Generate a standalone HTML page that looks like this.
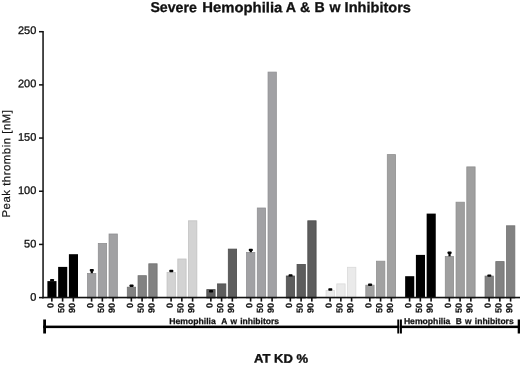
<!DOCTYPE html>
<html><head><meta charset="utf-8"><title>Severe Hemophilia A &amp; B w Inhibitors</title>
<style>
html,body{margin:0;padding:0;background:#fff;}
body{width:520px;height:367px;overflow:hidden;font-family:"Liberation Sans",sans-serif;}
svg{display:block;}
text{font-family:"Liberation Sans",sans-serif;fill:#111;}
</style></head><body>
<svg width="520" height="367" viewBox="0 0 520 367" style="will-change:transform">
<defs><filter id="soft" x="0" y="0" width="520" height="367" filterUnits="userSpaceOnUse" color-interpolation-filters="sRGB"><feGaussianBlur stdDeviation="0.4"/></filter></defs>
<rect width="520" height="367" fill="#fff"/>
<g opacity="0.999" filter="url(#soft)">
<rect x="-5" y="-5" width="530" height="377" fill="#fff"/>

<text x="150.40" y="11.95" font-size="14.2" transform="matrix(1 0.001 0 1 0 0)" font-weight="bold" textLength="46.4" lengthAdjust="spacingAndGlyphs" stroke="#111" stroke-width="0.3">Severe</text>
<text x="202.30" y="11.90" font-size="14.2" transform="matrix(1 0.001 0 1 0 0)" font-weight="bold" textLength="80.0" lengthAdjust="spacingAndGlyphs" stroke="#111" stroke-width="0.3">Hemophilia</text>
<text x="285.70" y="11.81" font-size="14.2" transform="matrix(1 0.001 0 1 0 0)" font-weight="bold" stroke="#111" stroke-width="0.3">A</text>
<text x="300.10" y="11.80" font-size="14.2" transform="matrix(1 0.001 0 1 0 0)" font-weight="bold" stroke="#111" stroke-width="0.3">&amp;</text>
<text x="314.60" y="11.79" font-size="14.2" transform="matrix(1 0.001 0 1 0 0)" font-weight="bold" stroke="#111" stroke-width="0.3">B</text>
<text x="329.60" y="11.77" font-size="14.2" transform="matrix(1 0.001 0 1 0 0)" font-weight="bold" stroke="#111" stroke-width="0.3">w</text>
<text x="344.60" y="11.76" font-size="14.2" transform="matrix(1 0.001 0 1 0 0)" font-weight="bold" textLength="66.4" lengthAdjust="spacingAndGlyphs" stroke="#111" stroke-width="0.3">Inhibitors</text>
<text font-size="11.3" transform="translate(10.10,217.50) rotate(-90) matrix(1 0.001 0 1 0 0)" textLength="107.4" lengthAdjust="spacing" stroke="#111" stroke-width="0.2">Peak thrombin [nM]</text>
<text x="36.30" y="300.81" font-size="11" transform="matrix(1 0.001 0 1 0 0)" text-anchor="end" stroke="#111" stroke-width="0.3">0</text>
<rect x="39.0" y="296.85" width="4.2" height="1.5" fill="#111"/>
<text x="36.30" y="247.44" font-size="11" transform="matrix(1 0.001 0 1 0 0)" text-anchor="end" stroke="#111" stroke-width="0.3">50</text>
<rect x="39.0" y="243.67" width="4.2" height="1.5" fill="#111"/>
<text x="36.30" y="194.07" font-size="11" transform="matrix(1 0.001 0 1 0 0)" text-anchor="end" stroke="#111" stroke-width="0.3">100</text>
<rect x="39.0" y="190.49" width="4.2" height="1.5" fill="#111"/>
<text x="36.30" y="140.70" font-size="11" transform="matrix(1 0.001 0 1 0 0)" text-anchor="end" stroke="#111" stroke-width="0.3">150</text>
<rect x="39.0" y="137.31" width="4.2" height="1.5" fill="#111"/>
<text x="36.30" y="87.33" font-size="11" transform="matrix(1 0.001 0 1 0 0)" text-anchor="end" stroke="#111" stroke-width="0.3">200</text>
<rect x="39.0" y="84.13" width="4.2" height="1.5" fill="#111"/>
<text x="36.30" y="33.96" font-size="11" transform="matrix(1 0.001 0 1 0 0)" text-anchor="end" stroke="#111" stroke-width="0.3">250</text>
<rect x="39.0" y="30.95" width="4.2" height="1.5" fill="#111"/>
<rect x="47.40" y="281.10" width="9.1" height="16.50" fill="#000000"/>
<rect x="50.05" y="278.90" width="4.0" height="2.4" rx="0.7" fill="#050505"/>
<rect x="51.05" y="297" width="1.6" height="4.6" fill="#111"/>
<text font-size="9" transform="translate(53.45,303.00) rotate(-90) matrix(1 0.001 0 1 0 0)" font-weight="bold" text-anchor="end" stroke="#111" stroke-width="0.2">0</text>
<rect x="58.15" y="266.90" width="9.1" height="30.70" fill="#000000"/>
<rect x="61.80" y="297" width="1.6" height="4.6" fill="#111"/>
<text font-size="9" transform="translate(64.20,303.00) rotate(-90) matrix(1 0.001 0 1 0 0)" font-weight="bold" text-anchor="end" stroke="#111" stroke-width="0.2">50</text>
<rect x="68.90" y="254.20" width="9.1" height="43.40" fill="#000000"/>
<rect x="72.55" y="297" width="1.6" height="4.6" fill="#111"/>
<text font-size="9" transform="translate(74.95,303.00) rotate(-90) matrix(1 0.001 0 1 0 0)" font-weight="bold" text-anchor="end" stroke="#111" stroke-width="0.2">90</text>
<rect x="87.55" y="273.40" width="8.30" height="24.60" fill="#a1a1a3" stroke="#909092" stroke-width="0.8"/>
<rect x="89.80" y="269.00" width="4.0" height="2.4" rx="0.7" fill="#050505"/>
<rect x="90.70" y="270.00" width="2.2" height="3.20" fill="#050505"/>
<rect x="90.80" y="297" width="1.6" height="4.6" fill="#111"/>
<text font-size="9" transform="translate(93.20,303.00) rotate(-90) matrix(1 0.001 0 1 0 0)" font-weight="bold" text-anchor="end" stroke="#111" stroke-width="0.2">0</text>
<rect x="98.30" y="243.40" width="8.30" height="54.60" fill="#a1a1a3" stroke="#909092" stroke-width="0.8"/>
<rect x="101.55" y="297" width="1.6" height="4.6" fill="#111"/>
<text font-size="9" transform="translate(103.95,303.00) rotate(-90) matrix(1 0.001 0 1 0 0)" font-weight="bold" text-anchor="end" stroke="#111" stroke-width="0.2">50</text>
<rect x="109.05" y="234.00" width="8.30" height="64.00" fill="#a1a1a3" stroke="#909092" stroke-width="0.8"/>
<rect x="112.30" y="297" width="1.6" height="4.6" fill="#111"/>
<text font-size="9" transform="translate(114.70,303.00) rotate(-90) matrix(1 0.001 0 1 0 0)" font-weight="bold" text-anchor="end" stroke="#111" stroke-width="0.2">90</text>
<rect x="127.30" y="287.20" width="8.30" height="10.80" fill="#828282" stroke="#717171" stroke-width="0.8"/>
<rect x="129.55" y="284.50" width="4.0" height="2.4" rx="0.7" fill="#050505"/>
<rect x="130.55" y="297" width="1.6" height="4.6" fill="#111"/>
<text font-size="9" transform="translate(132.95,303.00) rotate(-90) matrix(1 0.001 0 1 0 0)" font-weight="bold" text-anchor="end" stroke="#111" stroke-width="0.2">0</text>
<rect x="138.05" y="275.70" width="8.30" height="22.30" fill="#828282" stroke="#717171" stroke-width="0.8"/>
<rect x="141.30" y="297" width="1.6" height="4.6" fill="#111"/>
<text font-size="9" transform="translate(143.70,303.00) rotate(-90) matrix(1 0.001 0 1 0 0)" font-weight="bold" text-anchor="end" stroke="#111" stroke-width="0.2">50</text>
<rect x="148.80" y="263.80" width="8.30" height="34.20" fill="#828282" stroke="#717171" stroke-width="0.8"/>
<rect x="152.05" y="297" width="1.6" height="4.6" fill="#111"/>
<text font-size="9" transform="translate(154.45,303.00) rotate(-90) matrix(1 0.001 0 1 0 0)" font-weight="bold" text-anchor="end" stroke="#111" stroke-width="0.2">90</text>
<rect x="167.05" y="272.50" width="8.30" height="25.50" fill="#d3d3d3" stroke="#c2c2c2" stroke-width="0.8"/>
<rect x="169.30" y="269.80" width="4.0" height="2.4" rx="0.7" fill="#050505"/>
<rect x="170.30" y="297" width="1.6" height="4.6" fill="#111"/>
<text font-size="9" transform="translate(172.70,303.00) rotate(-90) matrix(1 0.001 0 1 0 0)" font-weight="bold" text-anchor="end" stroke="#111" stroke-width="0.2">0</text>
<rect x="177.80" y="259.00" width="8.30" height="39.00" fill="#d3d3d3" stroke="#c2c2c2" stroke-width="0.8"/>
<rect x="181.05" y="297" width="1.6" height="4.6" fill="#111"/>
<text font-size="9" transform="translate(183.45,303.00) rotate(-90) matrix(1 0.001 0 1 0 0)" font-weight="bold" text-anchor="end" stroke="#111" stroke-width="0.2">50</text>
<rect x="188.55" y="220.80" width="8.30" height="77.20" fill="#d3d3d3" stroke="#c2c2c2" stroke-width="0.8"/>
<rect x="191.80" y="297" width="1.6" height="4.6" fill="#111"/>
<text font-size="9" transform="translate(194.20,303.00) rotate(-90) matrix(1 0.001 0 1 0 0)" font-weight="bold" text-anchor="end" stroke="#111" stroke-width="0.2">90</text>
<rect x="206.80" y="289.60" width="8.30" height="8.40" fill="#5e5e5e" stroke="#4d4d4d" stroke-width="0.8"/>
<rect x="209.05" y="290.00" width="4.0" height="2.4" rx="0.7" fill="#050505"/>
<rect x="210.05" y="297" width="1.6" height="4.6" fill="#111"/>
<text font-size="9" transform="translate(212.45,303.00) rotate(-90) matrix(1 0.001 0 1 0 0)" font-weight="bold" text-anchor="end" stroke="#111" stroke-width="0.2">0</text>
<rect x="217.55" y="283.90" width="8.30" height="14.10" fill="#5e5e5e" stroke="#4d4d4d" stroke-width="0.8"/>
<rect x="220.80" y="297" width="1.6" height="4.6" fill="#111"/>
<text font-size="9" transform="translate(223.20,303.00) rotate(-90) matrix(1 0.001 0 1 0 0)" font-weight="bold" text-anchor="end" stroke="#111" stroke-width="0.2">50</text>
<rect x="228.30" y="249.10" width="8.30" height="48.90" fill="#5e5e5e" stroke="#4d4d4d" stroke-width="0.8"/>
<rect x="231.55" y="297" width="1.6" height="4.6" fill="#111"/>
<text font-size="9" transform="translate(233.95,303.00) rotate(-90) matrix(1 0.001 0 1 0 0)" font-weight="bold" text-anchor="end" stroke="#111" stroke-width="0.2">90</text>
<rect x="246.55" y="252.40" width="8.30" height="45.60" fill="#a1a1a4" stroke="#909093" stroke-width="0.8"/>
<rect x="248.80" y="248.70" width="4.0" height="2.4" rx="0.7" fill="#050505"/>
<rect x="249.70" y="249.70" width="2.2" height="2.50" fill="#050505"/>
<rect x="249.80" y="297" width="1.6" height="4.6" fill="#111"/>
<text font-size="9" transform="translate(252.20,303.00) rotate(-90) matrix(1 0.001 0 1 0 0)" font-weight="bold" text-anchor="end" stroke="#111" stroke-width="0.2">0</text>
<rect x="257.30" y="208.00" width="8.30" height="90.00" fill="#a1a1a4" stroke="#909093" stroke-width="0.8"/>
<rect x="260.55" y="297" width="1.6" height="4.6" fill="#111"/>
<text font-size="9" transform="translate(262.95,303.00) rotate(-90) matrix(1 0.001 0 1 0 0)" font-weight="bold" text-anchor="end" stroke="#111" stroke-width="0.2">50</text>
<rect x="268.05" y="72.10" width="8.30" height="225.90" fill="#a1a1a4" stroke="#909093" stroke-width="0.8"/>
<rect x="271.30" y="297" width="1.6" height="4.6" fill="#111"/>
<text font-size="9" transform="translate(273.70,303.00) rotate(-90) matrix(1 0.001 0 1 0 0)" font-weight="bold" text-anchor="end" stroke="#111" stroke-width="0.2">90</text>
<rect x="286.30" y="276.00" width="8.30" height="22.00" fill="#5d5d5d" stroke="#4c4c4c" stroke-width="0.8"/>
<rect x="288.55" y="274.20" width="4.0" height="2.4" rx="0.7" fill="#050505"/>
<rect x="289.55" y="297" width="1.6" height="4.6" fill="#111"/>
<text font-size="9" transform="translate(291.95,303.00) rotate(-90) matrix(1 0.001 0 1 0 0)" font-weight="bold" text-anchor="end" stroke="#111" stroke-width="0.2">0</text>
<rect x="297.05" y="264.40" width="8.30" height="33.60" fill="#5d5d5d" stroke="#4c4c4c" stroke-width="0.8"/>
<rect x="300.30" y="297" width="1.6" height="4.6" fill="#111"/>
<text font-size="9" transform="translate(302.70,303.00) rotate(-90) matrix(1 0.001 0 1 0 0)" font-weight="bold" text-anchor="end" stroke="#111" stroke-width="0.2">50</text>
<rect x="307.80" y="220.80" width="8.30" height="77.20" fill="#5d5d5d" stroke="#4c4c4c" stroke-width="0.8"/>
<rect x="311.05" y="297" width="1.6" height="4.6" fill="#111"/>
<text font-size="9" transform="translate(313.45,303.00) rotate(-90) matrix(1 0.001 0 1 0 0)" font-weight="bold" text-anchor="end" stroke="#111" stroke-width="0.2">90</text>
<rect x="326.05" y="290.40" width="8.30" height="7.60" fill="#eaeaea" stroke="#d9d9d9" stroke-width="0.8"/>
<rect x="328.30" y="288.30" width="4.0" height="2.4" rx="0.7" fill="#050505"/>
<rect x="329.30" y="297" width="1.6" height="4.6" fill="#111"/>
<text font-size="9" transform="translate(331.70,303.00) rotate(-90) matrix(1 0.001 0 1 0 0)" font-weight="bold" text-anchor="end" stroke="#111" stroke-width="0.2">0</text>
<rect x="336.80" y="283.90" width="8.30" height="14.10" fill="#eaeaea" stroke="#d9d9d9" stroke-width="0.8"/>
<rect x="340.05" y="297" width="1.6" height="4.6" fill="#111"/>
<text font-size="9" transform="translate(342.45,303.00) rotate(-90) matrix(1 0.001 0 1 0 0)" font-weight="bold" text-anchor="end" stroke="#111" stroke-width="0.2">50</text>
<rect x="347.55" y="267.30" width="8.30" height="30.70" fill="#eaeaea" stroke="#d9d9d9" stroke-width="0.8"/>
<rect x="350.80" y="297" width="1.6" height="4.6" fill="#111"/>
<text font-size="9" transform="translate(353.20,303.00) rotate(-90) matrix(1 0.001 0 1 0 0)" font-weight="bold" text-anchor="end" stroke="#111" stroke-width="0.2">90</text>
<rect x="365.80" y="285.20" width="8.30" height="12.80" fill="#a1a1a1" stroke="#909090" stroke-width="0.8"/>
<rect x="368.05" y="283.50" width="4.0" height="2.4" rx="0.7" fill="#050505"/>
<rect x="369.05" y="297" width="1.6" height="4.6" fill="#111"/>
<text font-size="9" transform="translate(371.45,303.00) rotate(-90) matrix(1 0.001 0 1 0 0)" font-weight="bold" text-anchor="end" stroke="#111" stroke-width="0.2">0</text>
<rect x="376.55" y="261.20" width="8.30" height="36.80" fill="#a1a1a1" stroke="#909090" stroke-width="0.8"/>
<rect x="379.80" y="297" width="1.6" height="4.6" fill="#111"/>
<text font-size="9" transform="translate(382.20,303.00) rotate(-90) matrix(1 0.001 0 1 0 0)" font-weight="bold" text-anchor="end" stroke="#111" stroke-width="0.2">50</text>
<rect x="387.30" y="154.60" width="8.30" height="143.40" fill="#a1a1a1" stroke="#909090" stroke-width="0.8"/>
<rect x="390.55" y="297" width="1.6" height="4.6" fill="#111"/>
<text font-size="9" transform="translate(392.95,303.00) rotate(-90) matrix(1 0.001 0 1 0 0)" font-weight="bold" text-anchor="end" stroke="#111" stroke-width="0.2">90</text>
<rect x="405.15" y="276.20" width="9.1" height="21.40" fill="#000000"/>
<rect x="408.80" y="297" width="1.6" height="4.6" fill="#111"/>
<text font-size="9" transform="translate(411.20,303.00) rotate(-90) matrix(1 0.001 0 1 0 0)" font-weight="bold" text-anchor="end" stroke="#111" stroke-width="0.2">0</text>
<rect x="415.90" y="254.90" width="9.1" height="42.70" fill="#000000"/>
<rect x="419.55" y="297" width="1.6" height="4.6" fill="#111"/>
<text font-size="9" transform="translate(421.95,303.00) rotate(-90) matrix(1 0.001 0 1 0 0)" font-weight="bold" text-anchor="end" stroke="#111" stroke-width="0.2">50</text>
<rect x="426.65" y="213.60" width="9.1" height="84.00" fill="#000000"/>
<rect x="430.30" y="297" width="1.6" height="4.6" fill="#111"/>
<text font-size="9" transform="translate(432.70,303.00) rotate(-90) matrix(1 0.001 0 1 0 0)" font-weight="bold" text-anchor="end" stroke="#111" stroke-width="0.2">90</text>
<rect x="445.30" y="256.50" width="8.30" height="41.50" fill="#9f9f9f" stroke="#8e8e8e" stroke-width="0.8"/>
<rect x="447.55" y="251.50" width="4.0" height="2.4" rx="0.7" fill="#050505"/>
<rect x="448.45" y="252.50" width="2.2" height="3.80" fill="#050505"/>
<rect x="448.55" y="297" width="1.6" height="4.6" fill="#111"/>
<text font-size="9" transform="translate(450.95,303.00) rotate(-90) matrix(1 0.001 0 1 0 0)" font-weight="bold" text-anchor="end" stroke="#111" stroke-width="0.2">0</text>
<rect x="456.05" y="202.20" width="8.30" height="95.80" fill="#9f9f9f" stroke="#8e8e8e" stroke-width="0.8"/>
<rect x="459.30" y="297" width="1.6" height="4.6" fill="#111"/>
<text font-size="9" transform="translate(461.70,303.00) rotate(-90) matrix(1 0.001 0 1 0 0)" font-weight="bold" text-anchor="end" stroke="#111" stroke-width="0.2">50</text>
<rect x="466.80" y="166.90" width="8.30" height="131.10" fill="#9f9f9f" stroke="#8e8e8e" stroke-width="0.8"/>
<rect x="470.05" y="297" width="1.6" height="4.6" fill="#111"/>
<text font-size="9" transform="translate(472.45,303.00) rotate(-90) matrix(1 0.001 0 1 0 0)" font-weight="bold" text-anchor="end" stroke="#111" stroke-width="0.2">90</text>
<rect x="485.05" y="276.10" width="8.30" height="21.90" fill="#828282" stroke="#717171" stroke-width="0.8"/>
<rect x="487.30" y="274.40" width="4.0" height="2.4" rx="0.7" fill="#050505"/>
<rect x="488.30" y="297" width="1.6" height="4.6" fill="#111"/>
<text font-size="9" transform="translate(490.70,303.00) rotate(-90) matrix(1 0.001 0 1 0 0)" font-weight="bold" text-anchor="end" stroke="#111" stroke-width="0.2">0</text>
<rect x="495.80" y="261.60" width="8.30" height="36.40" fill="#828282" stroke="#717171" stroke-width="0.8"/>
<rect x="499.05" y="297" width="1.6" height="4.6" fill="#111"/>
<text font-size="9" transform="translate(501.45,303.00) rotate(-90) matrix(1 0.001 0 1 0 0)" font-weight="bold" text-anchor="end" stroke="#111" stroke-width="0.2">50</text>
<rect x="506.55" y="225.80" width="8.30" height="72.20" fill="#828282" stroke="#717171" stroke-width="0.8"/>
<rect x="509.80" y="297" width="1.6" height="4.6" fill="#111"/>
<text font-size="9" transform="translate(512.20,303.00) rotate(-90) matrix(1 0.001 0 1 0 0)" font-weight="bold" text-anchor="end" stroke="#111" stroke-width="0.2">90</text>
<rect x="42.3" y="31" width="1.5" height="267.3" fill="#111"/>
<rect x="42.3" y="296.75" width="477.7" height="1.6" fill="#111"/>
<rect x="43.2" y="319.5" width="2.8" height="14" fill="#000"/>
<rect x="43.2" y="325.6" width="356" height="2.5" fill="#000"/>
<rect x="397.3" y="319.5" width="1.9" height="14" fill="#000"/>
<rect x="399.9" y="319.5" width="2.0" height="14" fill="#000"/>
<rect x="399.9" y="325.6" width="120.1" height="2.5" fill="#000"/>
<rect x="517.7" y="319.5" width="2.3" height="14" fill="#000"/>
<text x="169.30" y="323.88" font-size="8.4" transform="matrix(1 0.001 0 1 0 0)" font-weight="bold" textLength="46.5" lengthAdjust="spacingAndGlyphs" stroke="#111" stroke-width="0.25">Hemophilia</text>
<text x="221.20" y="323.83" font-size="8.4" transform="matrix(1 0.001 0 1 0 0)" font-weight="bold" stroke="#111" stroke-width="0.25">A</text>
<text x="230.50" y="323.82" font-size="8.4" transform="matrix(1 0.001 0 1 0 0)" font-weight="bold" stroke="#111" stroke-width="0.25">w</text>
<text x="240.20" y="323.81" font-size="8.4" transform="matrix(1 0.001 0 1 0 0)" font-weight="bold" textLength="38.9" lengthAdjust="spacingAndGlyphs" stroke="#111" stroke-width="0.25">inhibitors</text>
<text x="403.90" y="323.65" font-size="8.4" transform="matrix(1 0.001 0 1 0 0)" font-weight="bold" textLength="46.5" lengthAdjust="spacingAndGlyphs" stroke="#111" stroke-width="0.25">Hemophilia</text>
<text x="455.80" y="323.59" font-size="8.4" transform="matrix(1 0.001 0 1 0 0)" font-weight="bold" stroke="#111" stroke-width="0.25">B</text>
<text x="465.10" y="323.58" font-size="8.4" transform="matrix(1 0.001 0 1 0 0)" font-weight="bold" stroke="#111" stroke-width="0.25">w</text>
<text x="474.80" y="323.58" font-size="8.4" transform="matrix(1 0.001 0 1 0 0)" font-weight="bold" textLength="38.9" lengthAdjust="spacingAndGlyphs" stroke="#111" stroke-width="0.25">inhibitors</text>
<text x="254.00" y="362.35" font-size="12.2" transform="matrix(1 0.001 0 1 0 0)" font-weight="bold" textLength="54.0" lengthAdjust="spacingAndGlyphs" stroke="#111" stroke-width="0.35">AT KD %</text>
</g>
</svg>
</body></html>
